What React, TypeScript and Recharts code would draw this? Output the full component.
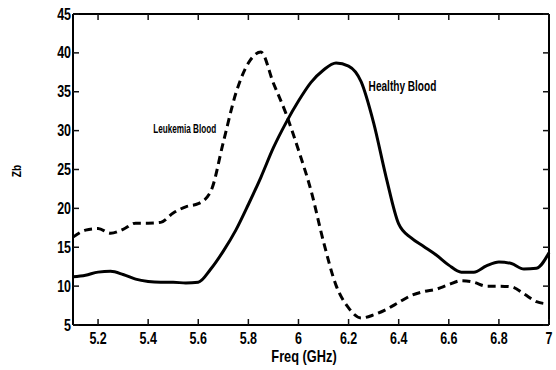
import { Line, LineChart, ReferenceDot, XAxis, YAxis } from "recharts";

const freq = [
  5.1, 5.15, 5.2, 5.25, 5.3, 5.35, 5.4, 5.45, 5.5, 5.55, 5.6, 5.65, 5.7, 5.75, 5.8, 5.85, 5.9, 5.95, 6.0, 6.05,
  6.1, 6.15, 6.2, 6.25, 6.3, 6.35, 6.4, 6.45, 6.5, 6.55, 6.6, 6.65, 6.7, 6.75, 6.8, 6.85, 6.9, 6.95, 7.0,
];

const healthy = [
  11.2, 11.4, 11.8, 11.9, 11.5, 10.9, 10.6, 10.5, 10.5, 10.4, 10.5, 12.2, 14.5, 17.2, 20.5, 24.0, 27.8, 31.0, 33.8, 36.2,
  37.8, 38.7, 38.3, 36.3, 31.0, 24.0, 18.0, 16.2, 15.1, 14.0, 12.7, 11.8, 11.8, 12.6, 13.1, 12.9, 12.2, 12.3, 14.3,
];

const leukemia = [
  16.3, 17.2, 17.4, 16.8, 17.3, 18.1, 18.1, 18.2, 19.4, 20.2, 20.6, 22.2, 28.5, 34.8, 38.7, 40.1, 36.1, 32.2, 27.5, 22.3,
  15.7, 10.1, 7.2, 5.9, 6.3, 7.0, 7.9, 8.8, 9.3, 9.6, 10.2, 10.7, 10.5, 10.0, 10.0, 9.9, 9.0, 8.0, 7.7,
];

const xTicks = [5.2, 5.4, 5.6, 5.8, 6, 6.2, 6.4, 6.6, 6.8, 7];
const yTicks = [5, 10, 15, 20, 25, 30, 35, 40, 45];

const data = freq.map((f, i) => ({ f, healthy: healthy[i], leukemia: leukemia[i] }));

const font = "'Liberation Sans', Arial, sans-serif";
const textStyle = { fontWeight: 700, fill: "#000", fontFamily: font };
const axisStroke = { stroke: "#000", strokeWidth: 2 };
const hiddenTickLine = { stroke: "none" };
// label offset from axis = tickSize + tickMargin (6 + 2)
const OFF = 8;
const LEN = 6;
const tickPen = { stroke: "#111", strokeWidth: 1.5 };

// bold narrow text, squeezed sideways like the original figure
function Narrow({ x, y, size, sx, anchor = "start", dy = "0.35em", rotate = 0, children }: any) {
  return (
    <g transform={`translate(${x},${y}) rotate(${rotate})`}>
      <text transform={`scale(${sx},1)`} textAnchor={anchor} dy={dy} style={{ ...textStyle, fontSize: size }}>
        {children}
      </text>
    </g>
  );
}

// tick marks point into the plot, matlab style
const BottomTick = (p: any) => (
  <g>
    <line x1={p.x} x2={p.x} y1={p.y - OFF} y2={p.y - OFF - LEN} {...tickPen} />
    <Narrow x={p.x} y={p.y} size={16} sx={0.78} anchor="middle" dy="0.71em">
      {p.payload.value}
    </Narrow>
  </g>
);

const LeftTick = (p: any) => (
  <g>
    <line x1={p.x + OFF} x2={p.x + OFF + LEN} y1={p.y} y2={p.y} {...tickPen} />
    <Narrow x={p.x + 6} y={p.y} size={16} sx={0.78} anchor="end">
      {p.payload.value}
    </Narrow>
  </g>
);

const TopTick = (p: any) => <line x1={p.x} x2={p.x} y1={p.y + OFF} y2={p.y + OFF + LEN} {...tickPen} />;

const RightTick = (p: any) => <line x1={p.x - OFF} x2={p.x - OFF - LEN} y1={p.y} y2={p.y} {...tickPen} />;

export default function App() {
  return (
    <div style={{ position: "absolute", left: 0, top: 0, background: "#fff" }}>
      <LineChart width={556} height={370} data={data} margin={{ top: 0, right: 0, left: 30, bottom: 0 }}>
        <XAxis
          xAxisId="b"
          dataKey="f"
          type="number"
          domain={[5.1, 7]}
          ticks={xTicks}
          tick={<BottomTick />}
          tickSize={6}
          tickMargin={2}
          tickLine={hiddenTickLine}
          axisLine={axisStroke}
          height={45}
          label={{
            content: () => (
              <Narrow x={304} y={356} size={16} sx={0.8} anchor="middle">
                Freq (GHz)
              </Narrow>
            ),
          }}
        />
        <XAxis
          xAxisId="t"
          dataKey="f"
          type="number"
          orientation="top"
          domain={[5.1, 7]}
          ticks={xTicks}
          tick={<TopTick />}
          tickSize={6}
          tickMargin={2}
          tickLine={hiddenTickLine}
          axisLine={axisStroke}
          height={14}
        />
        <YAxis
          yAxisId="l"
          domain={[5, 45]}
          ticks={yTicks}
          tick={<LeftTick />}
          tickSize={6}
          tickMargin={2}
          tickLine={hiddenTickLine}
          axisLine={axisStroke}
          width={43}
          label={{
            content: () => (
              <Narrow x={17} y={171} size={12} sx={0.85} anchor="middle" rotate={-90}>
                Zb
              </Narrow>
            ),
          }}
        />
        <YAxis
          yAxisId="r"
          orientation="right"
          domain={[5, 45]}
          ticks={yTicks}
          tick={<RightTick />}
          tickSize={6}
          tickMargin={2}
          tickLine={hiddenTickLine}
          axisLine={axisStroke}
          width={7}
        />
        <Line
          xAxisId="b"
          yAxisId="l"
          dataKey="healthy"
          type="monotone"
          stroke="#000"
          strokeWidth={3}
          dot={false}
          isAnimationActive={false}
        />
        {/* same domains on both axis pairs, so this lands in the same plot */}
        <Line
          xAxisId="t"
          yAxisId="r"
          dataKey="leukemia"
          type="monotone"
          stroke="#000"
          strokeWidth={3}
          strokeDasharray="8 5"
          dot={false}
          isAnimationActive={false}
        />
        <ReferenceDot
          xAxisId="b"
          yAxisId="l"
          x={6.28}
          y={35.7}
          r={0}
          fill="none"
          stroke="none"
          label={{
            content: (p: any) => (
              <Narrow x={p.viewBox.x} y={p.viewBox.y} size={14} sx={0.72}>
                Healthy Blood
              </Narrow>
            ),
          }}
        />
        <ReferenceDot
          xAxisId="b"
          yAxisId="l"
          x={5.42}
          y={30.2}
          r={0}
          fill="none"
          stroke="none"
          label={{
            content: (p: any) => (
              <Narrow x={p.viewBox.x} y={p.viewBox.y} size={12} sx={0.68}>
                Leukemia Blood
              </Narrow>
            ),
          }}
        />
      </LineChart>
    </div>
  );
}
